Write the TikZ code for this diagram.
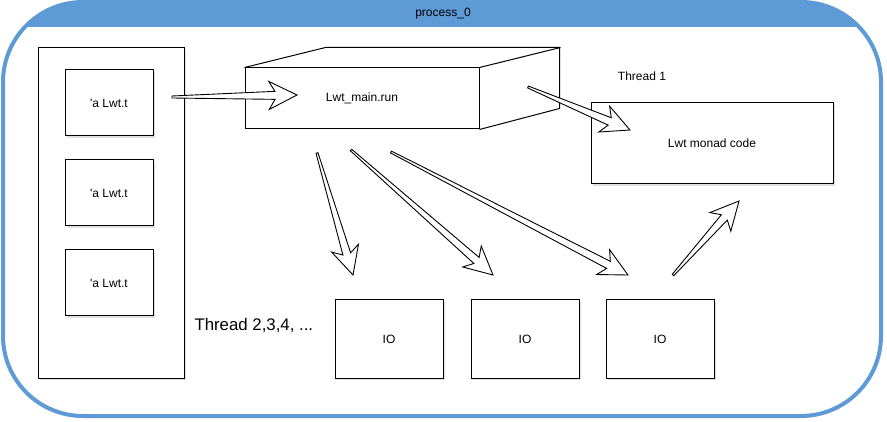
\documentclass[tikz,border=0pt]{standalone}
\usepackage{fontspec}
\setmainfont{Liberation Sans}
\usetikzlibrary{positioning,calc,shadows}

\definecolor{lane}{RGB}{93,154,214}

% hollow drawio-style arrow: #1 start, #2 tip
\newcommand{\flexarrow}[2]{%
	\coordinate (fa-j) at ($(#2)!22pt!(#1)$);
	\coordinate (fa-k) at ($(#2)!28pt!(#1)$);
	\filldraw[flex] ($(#1)!1pt!90:(#2)$) -- ($(fa-j)!4pt!90:(#2)$) -- ($(fa-k)!14pt!90:(#2)$) -- (#2)
	-- ($(fa-k)!14pt!-90:(#2)$) -- ($(fa-j)!4pt!-90:(#2)$) -- ($(#1)!1pt!-90:(#2)$) -- cycle;}

\begin{document}
\begin{tikzpicture}[x=1pt,y=-1pt,
	txt/.style={font=\fontsize{12}{14}\selectfont},
	box/.style={draw,line width=1pt,fill=white,txt,inner sep=0pt,
		drop shadow={opacity=0.25,shadow xshift=2pt,shadow yshift=-2pt}},
	flex/.style={draw=black,fill=white,line width=0.9pt}]
	\useasboundingbox (0,0) rectangle (887,422);

	% process lane
	\begin{scope}
		\clip (0,0) rectangle (887,27);
		\fill[lane] (3,2) [rounded corners=80pt] rectangle (881,416);
	\end{scope}
	\draw[lane,line width=4pt,rounded corners=80pt] (3,2) rectangle (881,416);
	\node[txt] (title) at (443,14) {process\_0};

	% pending promises
	\node[box,minimum width=146pt,minimum height=330pt] (pool) at (111,213) {};
	\node[box,minimum width=88pt,minimum height=66pt] (lwt1) at (109,103) {\textquotesingle a Lwt.t};
	\node[box,minimum width=88pt,minimum height=66pt,below=23pt of lwt1] (lwt2) {\textquotesingle a Lwt.t};
	\node[box,minimum width=88pt,minimum height=66pt,below=23pt of lwt2] (lwt3) {\textquotesingle a Lwt.t};

	% scheduler cube
	\node[draw,line width=1pt,fill=white,txt,minimum width=234pt,minimum height=61pt] (run) at (362,98.5) {Lwt\_main.run};
	\draw[line width=1pt] (run.north west) -- ++(81,-20) -- ++(234,0) -- ++(0,61) -- (run.south east);
	\draw[line width=1pt] (run.north east) -- ++(81,-20);

	\node[box,minimum width=242pt,minimum height=81pt] (monad) at (712,143.5) {Lwt monad code};
	\node[txt] (th1) at (642,76) {Thread 1};

	% io threads
	\node[box,minimum width=108pt,minimum height=78pt] (io1) at (389,339) {IO};
	\node[box,minimum width=108pt,minimum height=78pt,right=27pt of io1] (io2) {IO};
	\node[box,minimum width=108pt,minimum height=78pt,right=26pt of io2] (io3) {IO};
	\node[txt,font=\fontsize{16.8}{19}\selectfont,anchor=west] (thn) at (191,325) {Thread 2,3,4, ...};

	% arrow ends
	\coordinate (s1) at (172,97);  \coordinate (e1) at (297,95);
	\coordinate (s2) at (528,87);  \coordinate (e2) at (630,130);
	\coordinate (s3) at (317,153); \coordinate (e3) at (353,275);
	\coordinate (s4) at (351,150); \coordinate (e4) at (493,275);
	\coordinate (s5) at (391,152); \coordinate (e5) at (628,275);
	\coordinate (s6) at (673,275); \coordinate (e6) at (739,201);
	\foreach \i in {1,...,6} {\flexarrow{s\i}{e\i}}
\end{tikzpicture}
\end{document}
